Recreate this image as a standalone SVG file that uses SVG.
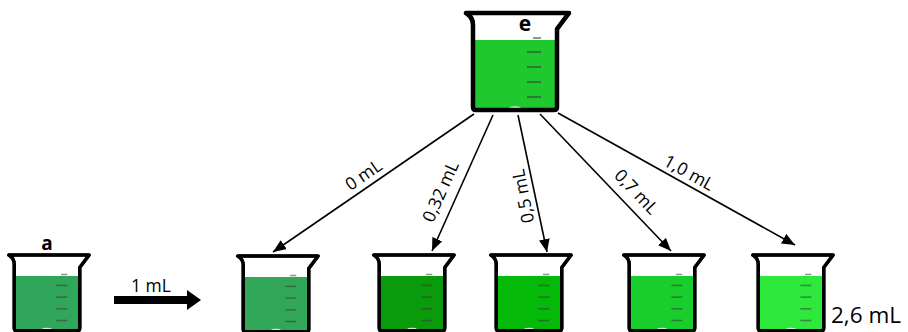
<svg xmlns="http://www.w3.org/2000/svg" width="908" height="332" viewBox="0 0 908 332">
  <defs>
    <style>
      .glass { fill: #fff; stroke: #000; stroke-width: 4; stroke-linejoin: round; stroke-linecap: round; }
      .outline { fill: none; stroke: #000; stroke-width: 4.5; stroke-linejoin: round; stroke-linecap: round; }
      .grad { stroke: #3a3a3a; stroke-opacity: 0.55; stroke-width: 2; }
      .shine { fill: #fff; opacity: 0.8; }
      .conn { stroke: #000; stroke-width: 1.6; fill: none; marker-end: url(#tip); }
      .lbl { font-family: "Open Sans", "Liberation Sans", sans-serif; font-size: 17.5px; fill: #000; }
      .big { font-family: "Open Sans", "Liberation Sans", sans-serif; font-size: 22.5px; fill: #000; }
      .name { font-family: "Open Sans", "Liberation Sans", sans-serif; font-weight: bold; fill: #000; }
    </style>
    <marker id="tip" viewBox="0 0 12 10" refX="12" refY="5" markerWidth="13" markerHeight="11" markerUnits="userSpaceOnUse" orient="auto">
      <path d="M0,0 L12,5 L0,10 Z" fill="#000"/>
    </marker>
    <!-- beaker body, rim at (0,0), 105 wide, 97 tall -->
    <path id="body" d="M1,0 L104,0 L92,16 L92,94 Q92,97 89,97 L11,97 Q8,97 8,94 L8,12 Q8,4 1,0 Z"/>
    <path id="liquid" d="M8,27 L92,27 L92,94 Q92,97 89,97 L11,97 Q8,97 8,94 Z"/>
    <g id="marks">
      <line class="grad" x1="68" y1="25" x2="76" y2="25"/>
      <line class="grad" x1="62" y1="39" x2="76" y2="39"/>
      <line class="grad" x1="62" y1="54" x2="76" y2="54"/>
      <line class="grad" x1="62" y1="69" x2="76" y2="69"/>
      <line class="grad" x1="62" y1="84" x2="76" y2="84"/>
      <ellipse class="shine" cx="50" cy="95" rx="6" ry="1.8"/>
    </g>
  </defs>

  <!-- stock beaker e -->
  <g id="beaker-e" transform="translate(465,13)">
    <use href="#body" class="glass"/>
    <use href="#liquid" fill="#1fc82c"/>
    <use href="#marks"/>
    <use href="#body" class="outline"/>
    <text class="name" x="60" y="18" font-size="21" text-anchor="middle">e</text>
  </g>

  <!-- beaker a -->
  <g id="beaker-a" transform="translate(8,255) scale(0.78)">
    <use href="#body" class="glass"/>
    <use href="#liquid" fill="#2fa659"/>
    <use href="#marks"/>
    <use href="#body" class="outline"/>
  </g>
  <text class="name" x="47" y="250" font-size="19" text-anchor="middle">a</text>

  <!-- transfer arrow a -> 0 mL -->
  <g id="transfer">
    <rect x="114" y="296" width="76" height="8" fill="#000"/>
    <path d="M187,290 L201,300 L187,310 Z" fill="#000"/>
    <text class="lbl" x="151" y="292" text-anchor="middle">1 mL</text>
  </g>

  <!-- dilution beakers -->
  <g id="beaker-0" transform="translate(237,256) scale(0.78)">
    <use href="#body" class="glass"/>
    <use href="#liquid" fill="#31a757"/>
    <use href="#marks"/>
    <use href="#body" class="outline"/>
  </g>
  <g id="beaker-032" transform="translate(373,255) scale(0.78)">
    <use href="#body" class="glass"/>
    <use href="#liquid" fill="#0a9b0c"/>
    <use href="#marks"/>
    <use href="#body" class="outline"/>
  </g>
  <g id="beaker-05" transform="translate(490,255) scale(0.78)">
    <use href="#body" class="glass"/>
    <use href="#liquid" fill="#05b908"/>
    <use href="#marks"/>
    <use href="#body" class="outline"/>
  </g>
  <g id="beaker-07" transform="translate(623,255) scale(0.78)">
    <use href="#body" class="glass"/>
    <use href="#liquid" fill="#19cd2c"/>
    <use href="#marks"/>
    <use href="#body" class="outline"/>
  </g>
  <g id="beaker-10" transform="translate(752,255) scale(0.78)">
    <use href="#body" class="glass"/>
    <use href="#liquid" fill="#2ee83c"/>
    <use href="#marks"/>
    <use href="#body" class="outline"/>
  </g>
  <text class="big" x="831" y="323">2,6 mL</text>

  <!-- connectors from stock to each dilution -->
  <g id="connectors">
    <line class="conn" x1="474" y1="114" x2="273" y2="252"/>
    <line class="conn" x1="493" y1="115" x2="432" y2="251"/>
    <line class="conn" x1="518" y1="115" x2="547" y2="252"/>
    <line class="conn" x1="540" y1="114" x2="671" y2="251"/>
    <line class="conn" x1="558" y1="113" x2="795" y2="245"/>
    <text class="lbl" transform="translate(367,180) rotate(-34.6)" text-anchor="middle">0 mL</text>
    <text class="lbl" transform="translate(446,194) rotate(-66)" text-anchor="middle">0,32 mL</text>
    <text class="lbl" transform="translate(529,195) rotate(-101)" text-anchor="middle">0,5 mL</text>
    <text class="lbl" transform="translate(632,196) rotate(46.5)" text-anchor="middle">0,7 mL</text>
    <text class="lbl" transform="translate(686,178) rotate(29)" text-anchor="middle">1,0 mL</text>
  </g>
</svg>
